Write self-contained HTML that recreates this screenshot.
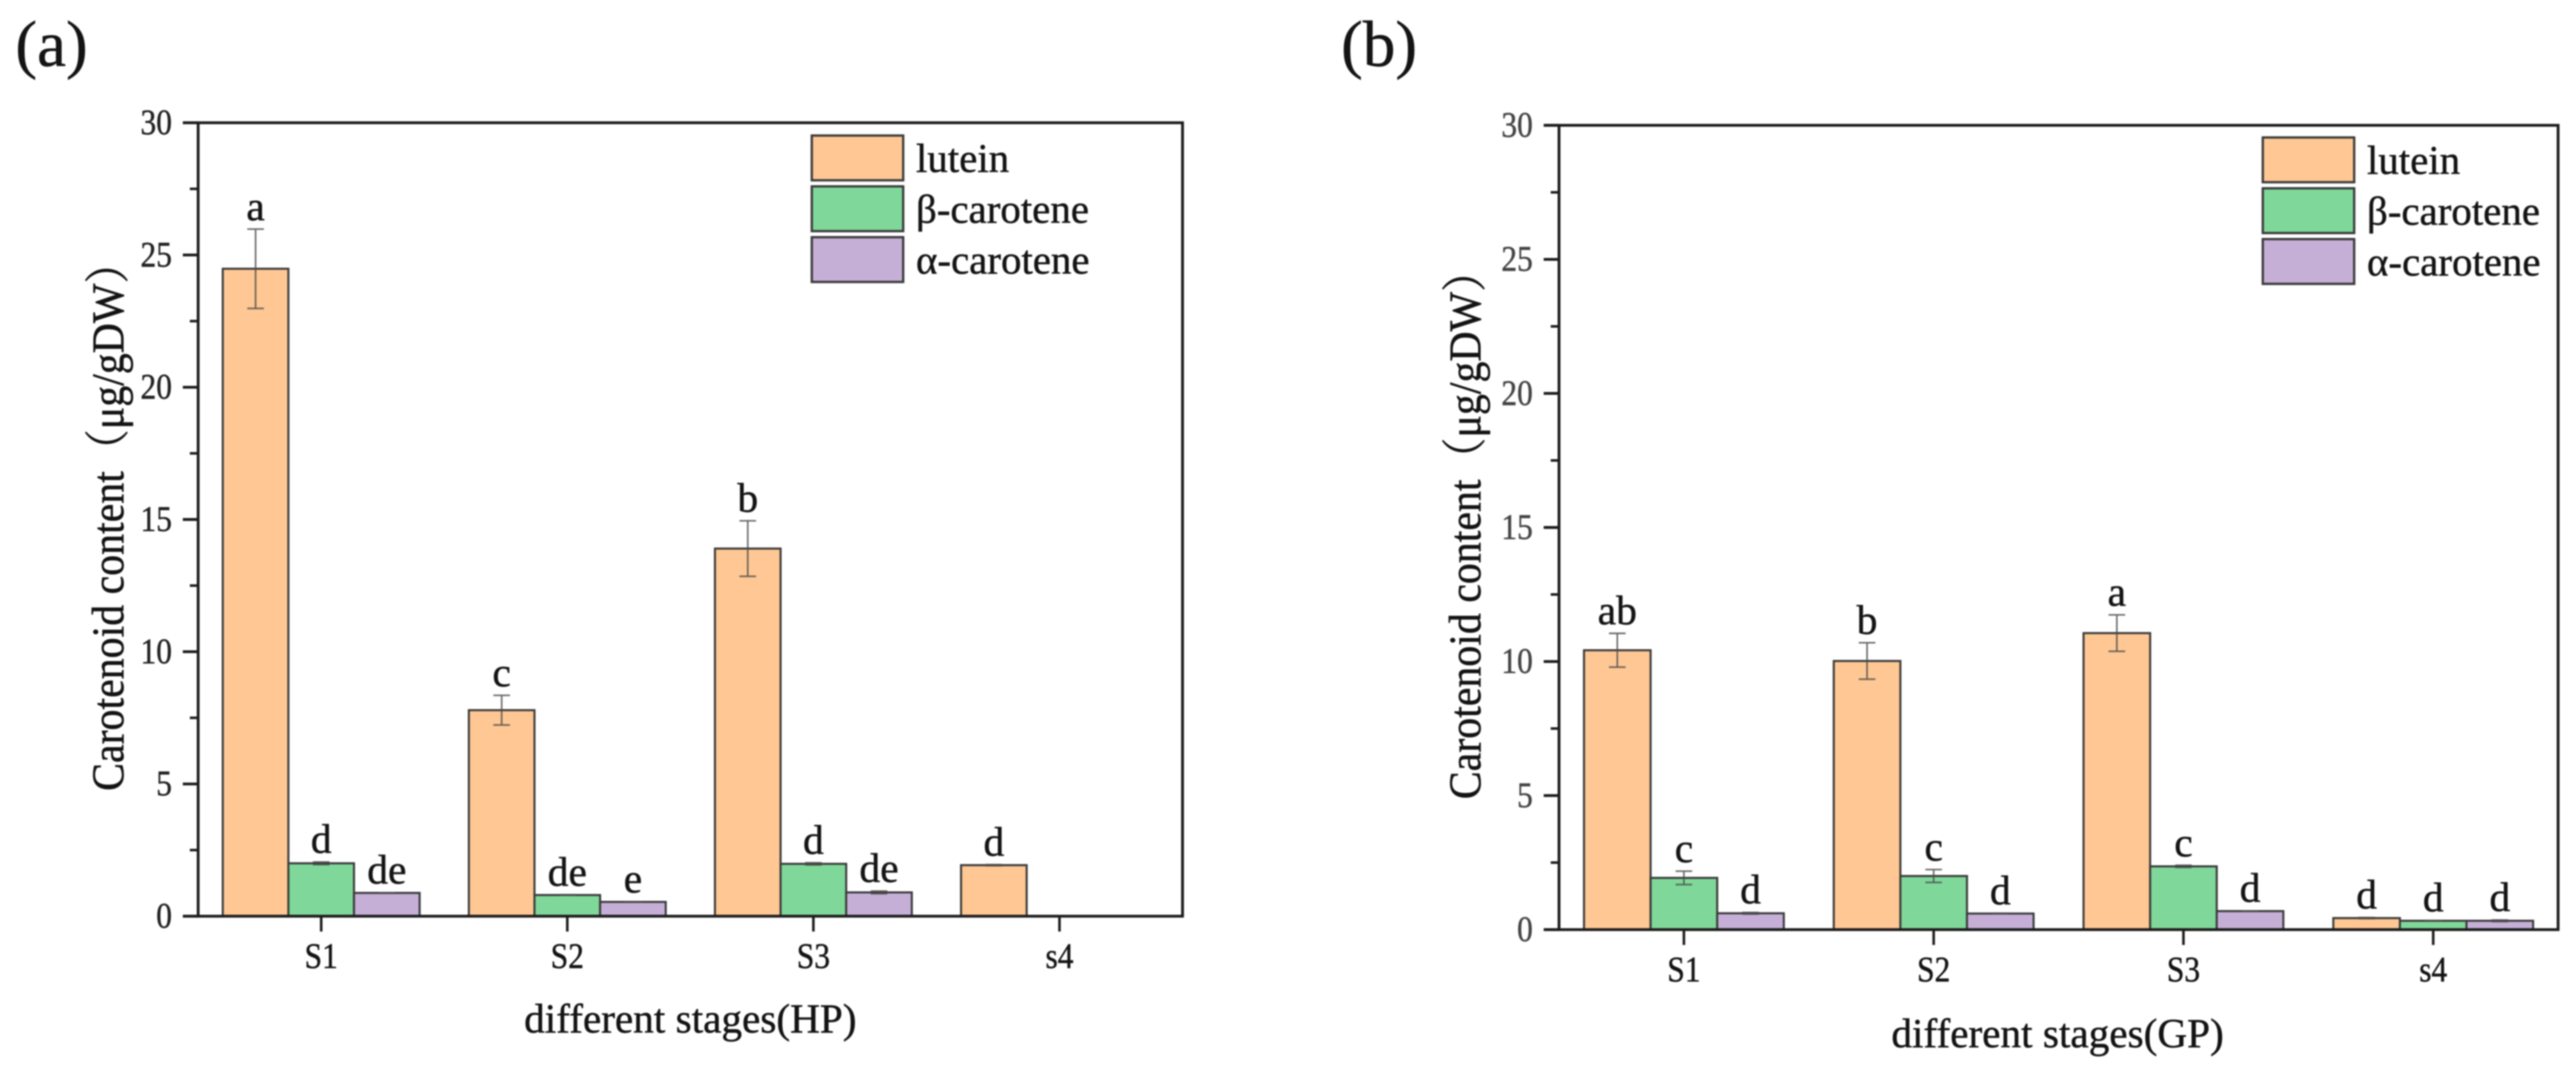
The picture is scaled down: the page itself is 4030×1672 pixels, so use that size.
<!DOCTYPE html>
<html lang="en">
<head>
<meta charset="utf-8">
<title>Carotenoid content by stage</title>
<style>
html,body{margin:0;padding:0;background:#fff;}
body{width:4030px;height:1672px;overflow:hidden;}
svg{display:block;filter:blur(1.1px);}
text{font-family:"Liberation Serif","Noto Serif CJK SC",serif;fill:#141414;stroke:#141414;stroke-width:0.7px;}
</style>
</head>
<body>
<svg id="figure" xmlns="http://www.w3.org/2000/svg" width="4030" height="1672" viewBox="0 0 4030 1672">
  <rect x="0" y="0" width="4030" height="1672" fill="#fff"/>
  <text x="24" y="103" font-size="102">(a)</text>
  <text x="2098" y="103" font-size="102">(b)</text>
  <g id="panelA">
    <text x="1080" y="1615" font-size="64.5" text-anchor="middle">different stages(HP)</text>
    <text transform="translate(193,1237) rotate(-90) scale(1,1.08)" font-size="65.5">Carotenoid content（μg/gDW）</text>
  </g>
  <g id="panelB">
    <text x="3219" y="1638" font-size="64.5" text-anchor="middle">different stages(GP)</text>
    <text transform="translate(2316,1250) rotate(-90) scale(1,1.08)" font-size="65.5">Carotenoid content（μg/gDW）</text>
  </g>
</svg>
<script>
var categories = ["S1", "S2", "S3", "s4"];
var yTickLabels = [0, 5, 10, 15, 20, 25, 30];
var seriesNames = ["lutein", "β-carotene", "α-carotene"];
var seriesColors = ["#fec793", "#7fd899", "#c6afd7"];

var luteinHP = [24.48, 7.79, 13.9, 1.93];
var luteinErrHP = [1.5, 0.56, 1.05, 0.02];
var luteinLettersHP = ["a", "c", "b", "d"];
var betaHP = [2.0, 0.8, 1.98, 0];
var betaErrHP = [0.05, 0.01, 0.04, 0];
var betaLettersHP = ["d", "de", "d", ""];
var alphaHP = [0.88, 0.54, 0.9, 0];
var alphaErrHP = [0.01, 0.01, 0.05, 0];
var alphaLettersHP = ["de", "e", "de", ""];

var luteinGP = [10.42, 10.02, 11.06, 0.43];
var luteinErrGP = [0.63, 0.68, 0.68, 0.02];
var luteinLettersGP = ["ab", "b", "a", "d"];
var betaGP = [1.93, 2.0, 2.36, 0.33];
var betaErrGP = [0.25, 0.24, 0.04, 0.01];
var betaLettersGP = ["c", "c", "c", "d"];
var alphaGP = [0.61, 0.6, 0.69, 0.33];
var alphaErrGP = [0.03, 0.01, 0.01, 0.03];
var alphaLettersGP = ["d", "d", "d", "d"];

var yMax = 30;
var SVGNS = "http://www.w3.org/2000/svg";

function make(parent, tag, attrs) {
  var el = document.createElementNS(SVGNS, tag);
  for (var k in attrs) { el.setAttribute(k, attrs[k]); }
  parent.appendChild(el);
  return el;
}

function drawPanel(parent, g, values, errors, letters) {
  function yScale(v) { return g.bottom - (v / yMax) * (g.bottom - g.top); }
  var catStep = (g.right - g.left) / categories.length;
  function xCenter(i) { return g.left + catStep * (i + 0.5); }
  var barW = catStep * 0.8 / values.length;

  // bars, error bars, significance letters
  for (var s = 0; s < values.length; s++) {
    for (var i = 0; i < categories.length; i++) {
      var v = values[s][i];
      if (v <= 0) { continue; }
      var bx = xCenter(i) + (s - values.length / 2) * barW;
      var bar = make(parent, "rect", {
        x: bx, y: yScale(v), width: barW, height: g.bottom - yScale(v),
        fill: seriesColors[s], stroke: "#3a3a3a", "stroke-width": 3.2
      });
      
      

      var cx = bx + barW / 2;
      var e = errors[s][i];
      var eb = make(parent, "path", {
        d: "M" + cx + " " + yScale(v + e) + "V" + yScale(v - e) +
           "M" + (cx - 13) + " " + yScale(v + e) + "H" + (cx + 13) +
           "M" + (cx - 13) + " " + yScale(v - e) + "H" + (cx + 13),
        fill: "none", stroke: "#4a4a4a", "stroke-width": 2.4, "stroke-opacity": 0.85
      });
      
      

      if (letters[s][i]) {
        var lt = make(parent, "text", {
          x: cx, y: yScale(v + e) - 14, "font-size": 65, "text-anchor": "middle"
        });
        lt.textContent = letters[s][i];
        
        
      }
    }
  }

  // plot frame
  var frame = make(parent, "rect", {
    x: g.left, y: g.top, width: g.right - g.left, height: g.bottom - g.top,
    fill: "none", stroke: "#1c1c1c", "stroke-width": 4.4
  });
  
  

  // y ticks
  for (var t = 0; t < yTickLabels.length; t++) {
    var ty = yScale(yTickLabels[t]);
    var major = make(parent, "line", {
      x1: g.left - 24, x2: g.left, y1: ty, y2: ty, stroke: "#1c1c1c", "stroke-width": 4.4
    });
    
    

    var lab = make(parent, "text", {
      transform: "translate(" + (g.left - 41) + "," + (ty + 18) + ") scale(0.88,1)",
      "font-size": 56, "text-anchor": "end", style: "fill:" + g.tickColor + ";stroke:" + g.tickColor
    });
    lab.textContent = yTickLabels[t];
    
    

    if (t < yTickLabels.length - 1) {
      var my = yScale((yTickLabels[t] + yTickLabels[t + 1]) / 2);
      var minor = make(parent, "line", {
        x1: g.left - 13, x2: g.left, y1: my, y2: my, stroke: "#1c1c1c", "stroke-width": 4
      });
      
      
    }
  }

  // x ticks
  for (var c = 0; c < categories.length; c++) {
    var tx = xCenter(c);
    var xt = make(parent, "line", {
      x1: tx, x2: tx, y1: g.bottom, y2: g.bottom + 24, stroke: "#1c1c1c", "stroke-width": 4
    });
    
    

    var xl = make(parent, "text", {
      transform: "translate(" + tx + "," + (g.bottom + 81) + ") scale(0.88,1)",
      "font-size": 56, "text-anchor": "middle"
    });
    xl.textContent = categories[c];
    
    
  }

  // legend
  for (var n = 0; n < seriesNames.length; n++) {
    var ly = g.legendTop + n * 79.5;
    var sw = make(parent, "rect", {
      x: g.legendLeft, y: ly, width: 143, height: 70,
      fill: seriesColors[n], stroke: "#3a3a3a", "stroke-width": 3.6
    });
    
    

    var lg = make(parent, "text", {
      x: g.legendLeft + 163, y: ly + 57, "font-size": 64
    });
    lg.textContent = seriesNames[n];
    
    
  }
}

drawPanel(document.getElementById("panelA"),
  { id: "hp", left: 310, right: 1850, top: 192, bottom: 1433, legendLeft: 1270, legendTop: 212, tickColor: "#222" },
  [luteinHP, betaHP, alphaHP],
  [luteinErrHP, betaErrHP, alphaErrHP],
  [luteinLettersHP, betaLettersHP, alphaLettersHP]);

drawPanel(document.getElementById("panelB"),
  { id: "gp", left: 2439, right: 4002, top: 196, bottom: 1454, legendLeft: 3540, legendTop: 215, tickColor: "#444" },
  [luteinGP, betaGP, alphaGP],
  [luteinErrGP, betaErrGP, alphaErrGP],
  [luteinLettersGP, betaLettersGP, alphaLettersGP]);
</script>
</body>
</html>
